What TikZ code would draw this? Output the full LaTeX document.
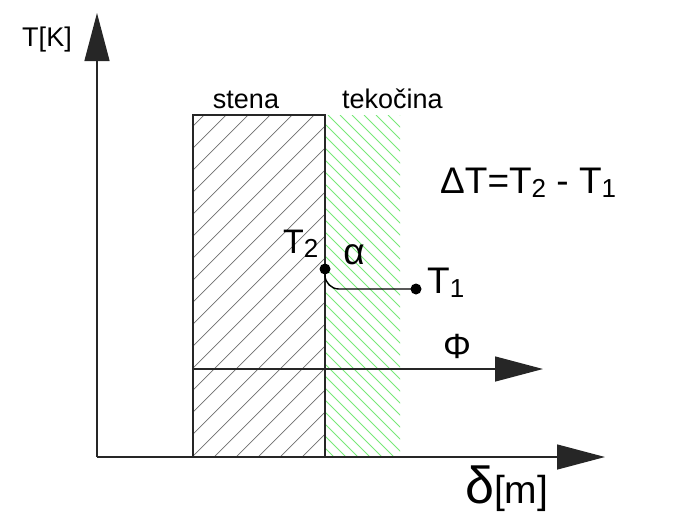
\documentclass[tikz,border=0pt]{standalone}
\usepackage{fontspec}
\setmainfont{Liberation Sans}
\usetikzlibrary{arrows.meta}
\definecolor{hatchgreen}{RGB}{120,232,120}
\definecolor{hatchgrey}{RGB}{110,110,110}
\tikzset{
  axisline/.style={line width=1.4pt, draw=black!85, -{Triangle[length=48pt,width=25pt]}},
  frameline/.style={line width=1.4pt, draw=black!85},
  greyhatch/.style={line width=0.7pt, draw=hatchgrey},
  greenhatch/.style={line width=0.85pt, draw=hatchgreen},
  dotnode/.style={circle, fill=black, inner sep=0pt, minimum size=11pt},
  lbl/.style={inner sep=0pt, font=\fontsize{27}{27}\selectfont},
  biglbl/.style={inner sep=0pt, font=\fontsize{37}{37}\selectfont}
}
\newcommand{\subdig}[1]{\raisebox{-0.12em}{\fontsize{26}{26}\selectfont #1}}
\begin{document}
\begin{tikzpicture}[x=1pt,y=-1pt]
\useasboundingbox (0,0) rectangle (689,528);
% hatching of the wall
\begin{scope}
  \clip (193,115) rectangle (325,457);
  \foreach \a in {-160,-138,...,340} \draw[greyhatch] (\a,457) -- ++(342,-342);
\end{scope}
% hatching of the fluid
\begin{scope}
  \clip (325,115) rectangle (400,457);
  \foreach \a in {-20,-8,...,410} \draw[greenhatch] (\a,115) -- ++(342,342);
\end{scope}
% wall frame
\draw[frameline] (193,115) rectangle (325,457);
% axes
\coordinate (O) at (97,457);
\coordinate (Ytip) at (97,13);
\coordinate (Xtip) at (605,457);
\draw[axisline] (O) -- (Ytip);
\draw[axisline] (O) -- (Xtip);
% heat flux
\coordinate (Fs) at (193,369);
\coordinate (Fe) at (543,369);
\draw[axisline] (Fs) -- (Fe);
% temperature points
\node[dotnode] (T2) at (325,269) {};
\node[dotnode] (T1) at (416,289) {};
\coordinate (bend) at (325,289);
\draw[line width=1.4pt, rounded corners=14pt] (T2.center) -- (bend) -- (T1.center);
% labels
\node[lbl] (yl) at (47,40) {T[K]};
\node[lbl, anchor=base] (stena) at (246,108) {stena};
\node[lbl, anchor=base west] (tek) at (342,108) {tekočina};
\node[biglbl, anchor=base west] (dT) at (440,193) {ΔT=T\subdig{2} - T\subdig{1}};
\node[biglbl, anchor=base west, font=\fontsize{34}{34}\selectfont] (lT2) at (283,253) {T\subdig{2}};
\node[biglbl] (al) at (354,255) {α};
\node[biglbl, anchor=base west] (lT1) at (427,293) {T\subdig{1}};
\node[biglbl, font=\fontsize{35}{35}\selectfont] (phi) at (457,346) {Φ};
\node[inner sep=0pt, anchor=base west] (xl) at (465,503) {\fontsize{52}{52}\selectfont δ\fontsize{39}{39}\selectfont [m]};
\end{tikzpicture}
\end{document}
